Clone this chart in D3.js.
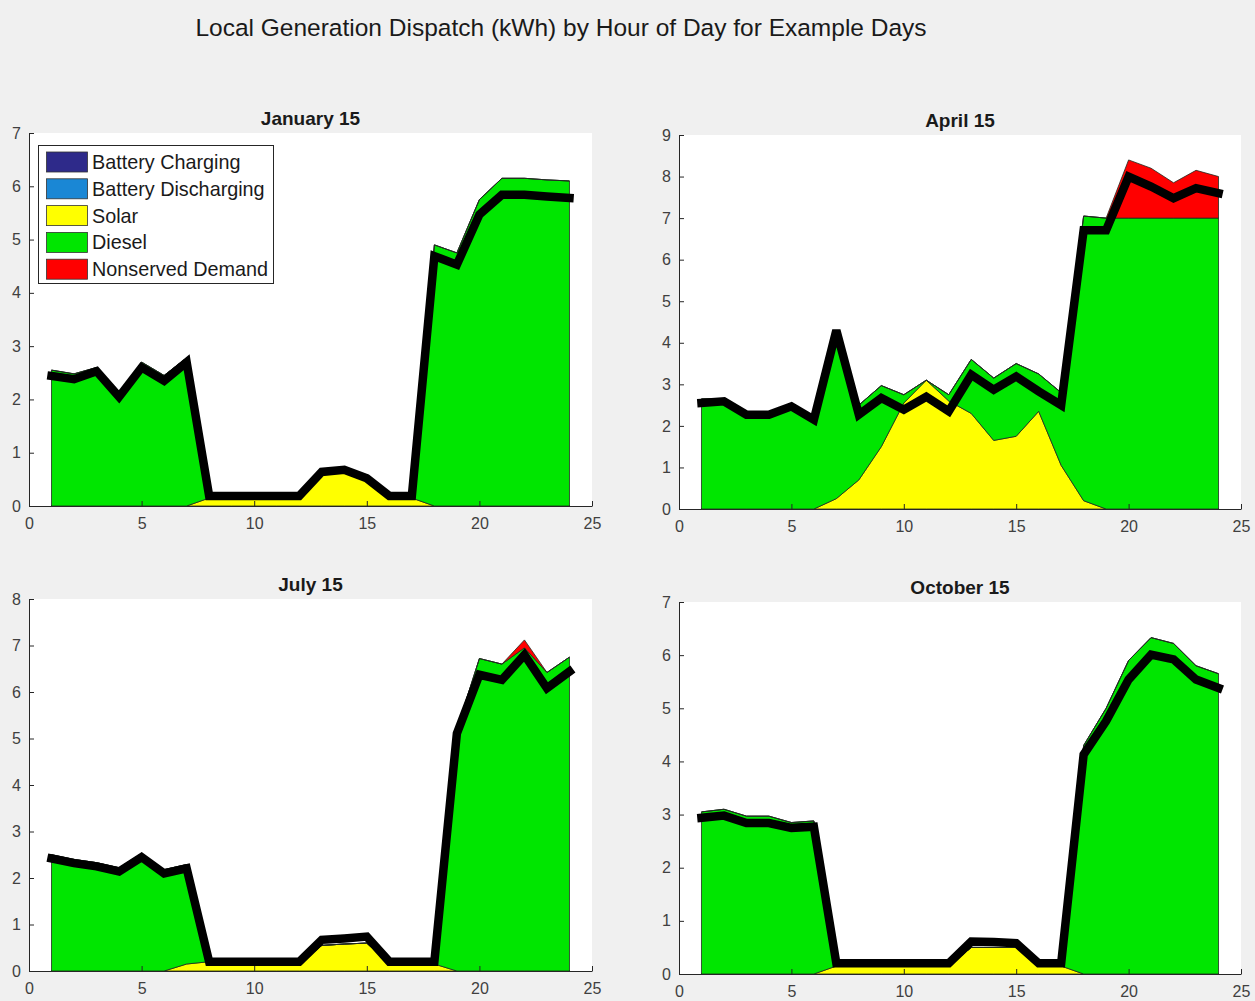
<!DOCTYPE html>
<html>
<head>
<meta charset="utf-8">
<script src="https://cdn.jsdelivr.net/npm/d3@7"></script>
<style>
  body { margin: 0; background: #f0f0f0; }
  svg { display: block; }
  text { font-family: "Liberation Sans", Arial, Helvetica, sans-serif; }
</style>
</head>
<body>
<svg id="fig" width="1255" height="1001"></svg>
<script>
// ---- data: hourly dispatch (kWh) for four example days ----
const hours = [1,2,3,4,5,6,7,8,9,10,11,12,13,14,15,16,17,18,19,20,21,22,23,24];
const xTicks = [0, 5, 10, 15, 20, 25];

const seriesNames = ["Battery Charging", "Battery Discharging", "Solar", "Diesel", "Nonserved Demand"];
const seriesColors = ["#2e2a8a", "#1a87d5", "#ffff00", "#00e600", "#ff0000"];

// January 15
const janCharge    = [0,0,0,0,0,0,0,0,0,0,0,0,0,0,0,0,0,0,0,0,0,0,0,0];
const janDischarge = [0,0,0,0,0,0,0,0,0,0,0,0,0,0,0,0,0,0,0,0,0,0,0,0];
const janSolar     = [0,0,0,0,0,0,0,0.15,0.15,0.15,0.15,0.15,0.6,0.68,0.5,0.15,0.15,0,0,0,0,0,0,0];
const janDiesel    = [2.55,2.48,2.6,2.1,2.7,2.45,2.78,0,0,0,0,0,0,0,0,0,0,4.9,4.75,5.75,6.15,6.15,6.12,6.1];
const janUnserved  = [0,0,0,0,0,0,0,0,0,0,0,0,0,0,0,0,0,0,0,0,0,0,0,0];
const janDemand    = [2.44,2.38,2.53,2.05,2.6,2.35,2.7,0.19,0.19,0.19,0.19,0.19,0.64,0.68,0.52,0.19,0.19,4.69,4.53,5.47,5.84,5.84,5.81,5.78];
const janYTicks    = [0,1,2,3,4,5,6,7];

// April 15
const aprCharge    = [0,0,0,0,0,0,0,0,0,0,0,0,0,0,0,0,0,0,0,0,0,0,0,0];
const aprDischarge = [0,0,0,0,0,0,0,0,0,0,0,0,0,0,0,0,0,0,0,0,0,0,0,0];
const aprSolar     = [0,0,0,0,0,0,0.25,0.7,1.5,2.55,3.1,2.6,2.3,1.65,1.75,2.35,1.05,0.2,0,0,0,0,0,0];
const aprDiesel    = [2.65,2.65,2.3,2.3,2.5,2.2,3.95,1.8,1.47,0.2,0,0.15,1.3,1.5,1.75,0.9,1.75,6.85,7.0,7.0,7.0,7.0,7.0,7.0];
const aprUnserved  = [0,0,0,0,0,0,0,0,0,0,0,0,0,0,0,0,0,0,0,1.4,1.2,0.85,1.15,1.0];
const aprDemand    = [2.55,2.59,2.27,2.27,2.47,2.15,4.3,2.27,2.67,2.39,2.7,2.35,3.23,2.87,3.19,2.83,2.5,6.71,6.71,8.0,7.76,7.48,7.72,7.6];
const aprYTicks    = [0,1,2,3,4,5,6,7,8,9];

// July 15
const julCharge    = [0,0,0,0,0,0,0,0,0,0,0,0,0,0,0,0,0,0,0,0,0,0,0,0];
const julDischarge = [0,0,0,0,0,0,0,0,0,0,0,0,0,0,0,0,0,0,0,0,0,0,0,0];
const julSolar     = [0,0,0,0,0,0,0.15,0.2,0.15,0.15,0.15,0.15,0.55,0.58,0.6,0.15,0.15,0.15,0,0,0,0,0,0];
const julDiesel    = [2.5,2.4,2.33,2.22,2.53,2.18,2.14,0,0,0,0,0,0,0,0,0,0,0,5.2,6.72,6.6,6.95,6.42,6.75];
const julUnserved  = [0,0,0,0,0,0,0,0,0,0,0,0,0,0,0,0,0,0,0,0,0,0.17,0,0];
const julDemand    = [2.42,2.32,2.25,2.14,2.45,2.1,2.21,0.2,0.2,0.2,0.2,0.2,0.67,0.7,0.74,0.2,0.2,0.2,5.11,6.37,6.26,6.8,6.08,6.44];
const julYTicks    = [0,1,2,3,4,5,6,7,8];

// October 15
const octCharge    = [0,0,0,0,0,0,0,0,0,0,0,0,0,0,0,0,0,0,0,0,0,0,0,0];
const octDischarge = [0,0,0,0,0,0,0,0,0,0,0,0,0,0,0,0,0,0,0,0,0,0,0,0];
const octSolar     = [0,0,0,0,0,0,0.15,0.15,0.15,0.15,0.15,0.15,0.5,0.5,0.5,0.15,0.15,0,0,0,0,0,0,0];
const octDiesel    = [3.05,3.1,2.97,2.97,2.85,2.88,0,0,0,0,0,0,0,0,0,0,0,4.3,5.0,5.9,6.33,6.22,5.8,5.65];
const octUnserved  = [0,0,0,0,0,0,0,0,0,0,0,0,0,0,0,0,0,0,0,0,0,0,0,0];
const octDemand    = [2.94,2.98,2.84,2.84,2.75,2.77,0.2,0.2,0.2,0.2,0.2,0.2,0.61,0.6,0.58,0.2,0.2,4.13,4.76,5.54,6.01,5.92,5.54,5.38];
const octYTicks    = [0,1,2,3,4,5,6,7];

// ---- layout ----
const svg = d3.select("#fig");
const keys = ["charge", "discharge", "solar", "diesel", "unserved"];

svg.append("text")
  .attr("x", 561).attr("y", 36)
  .attr("text-anchor", "middle")
  .attr("font-size", 24.5)
  .attr("fill", "#1a1a1a")
  .text("Local Generation Dispatch (kWh) by Hour of Day for Example Days");

const panels = [
  { title: "January 15", left: 29,  right: 592,  top: 133, bottom: 506,
    cols: [janCharge, janDischarge, janSolar, janDiesel, janUnserved], demand: janDemand, yTicks: janYTicks, legend: true },
  { title: "April 15",   left: 679, right: 1241, top: 135, bottom: 509,
    cols: [aprCharge, aprDischarge, aprSolar, aprDiesel, aprUnserved], demand: aprDemand, yTicks: aprYTicks },
  { title: "July 15",    left: 29,  right: 592,  top: 599, bottom: 971,
    cols: [julCharge, julDischarge, julSolar, julDiesel, julUnserved], demand: julDemand, yTicks: julYTicks },
  { title: "October 15", left: 679, right: 1241, top: 602, bottom: 974,
    cols: [octCharge, octDischarge, octSolar, octDiesel, octUnserved], demand: octDemand, yTicks: octYTicks }
];

panels.forEach(p => {
  const g = svg.append("g");
  const x = d3.scaleLinear().domain([xTicks[0], xTicks[xTicks.length - 1]]).range([p.left, p.right]);
  const y = d3.scaleLinear().domain([p.yTicks[0], p.yTicks[p.yTicks.length - 1]]).range([p.bottom, p.top]);

  // white axes background
  g.append("rect")
    .attr("x", p.left).attr("y", p.top)
    .attr("width", p.right - p.left).attr("height", p.bottom - p.top)
    .attr("fill", "#ffffff");

  const rows = hours.map((h, i) => {
    const r = { hour: h };
    keys.forEach((k, j) => { r[k] = p.cols[j][i]; });
    return r;
  });
  // plain cumulative stacking: each layer sits on the one below it
  const stacked = d3.stack().keys(keys).offset(d3.stackOffsetNone)(rows);

  const area = d3.area()
    .x(d => x(d.data.hour))
    .y0(d => y(d[0]))
    .y1(d => y(d[1]));

  g.selectAll("path.layer")
    .data(stacked)
    .join("path")
    .attr("class", "layer")
    .attr("d", area)
    .attr("fill", (d, i) => seriesColors[i])
    .attr("stroke", "#1f2a1f")
    .attr("stroke-width", 0.8)
    .attr("stroke-linejoin", "round");

  // demand line
  const line = d3.line().x((d, i) => x(hours[i])).y(d => y(d));
  g.append("path")
    .attr("d", line(p.demand))
    .attr("fill", "none")
    .attr("stroke", "#000")
    .attr("stroke-width", 8.5)
    .attr("stroke-linejoin", "miter")
    .attr("stroke-miterlimit", 3)
    .attr("stroke-linecap", "square");

  // axes
  const yAxis = d3.axisLeft(y).tickValues(p.yTicks).tickFormat(d3.format("d"))
    .tickSizeInner(-5).tickSizeOuter(0).tickPadding(8);
  const xAxis = d3.axisBottom(x).tickValues(xTicks).tickFormat(d3.format("d"))
    .tickSizeInner(-5).tickSizeOuter(0).tickPadding(12);

  const ya = g.append("g").attr("transform", `translate(${p.left},0)`).call(yAxis);
  const xa = g.append("g").attr("transform", `translate(0,${p.bottom})`).call(xAxis);
  [ya, xa].forEach(a => {
    a.select(".domain").attr("stroke", "#262626").attr("stroke-width", 1);
    a.selectAll(".tick line").attr("stroke", "#262626");
    a.selectAll(".tick text").attr("font-size", 16).attr("fill", "#404040")
      .attr("font-family", "Liberation Sans, Arial, sans-serif");
  });

  // panel title
  g.append("text")
    .attr("x", (p.left + p.right) / 2).attr("y", p.top - 8)
    .attr("text-anchor", "middle")
    .attr("font-size", 19).attr("font-weight", "bold")
    .attr("fill", "#1a1a1a")
    .text(p.title);

  if (p.legend) {
    const lg = g.append("g");
    lg.append("rect")
      .attr("x", 38.5).attr("y", 145.5).attr("width", 235).attr("height", 138)
      .attr("fill", "#fff").attr("stroke", "#262626").attr("stroke-width", 1);
    seriesNames.forEach((name, i) => {
      const cy = 162 + i * 26.8;
      lg.append("rect")
        .attr("x", 46.5).attr("y", cy - 10).attr("width", 41).attr("height", 20)
        .attr("fill", seriesColors[i]).attr("stroke", "#333").attr("stroke-width", 0.8);
      lg.append("text")
        .attr("x", 92).attr("y", cy + 7)
        .attr("font-size", 19.8).attr("fill", "#1a1a1a")
        .text(name);
    });
  }
});
</script>
</body>
</html>
